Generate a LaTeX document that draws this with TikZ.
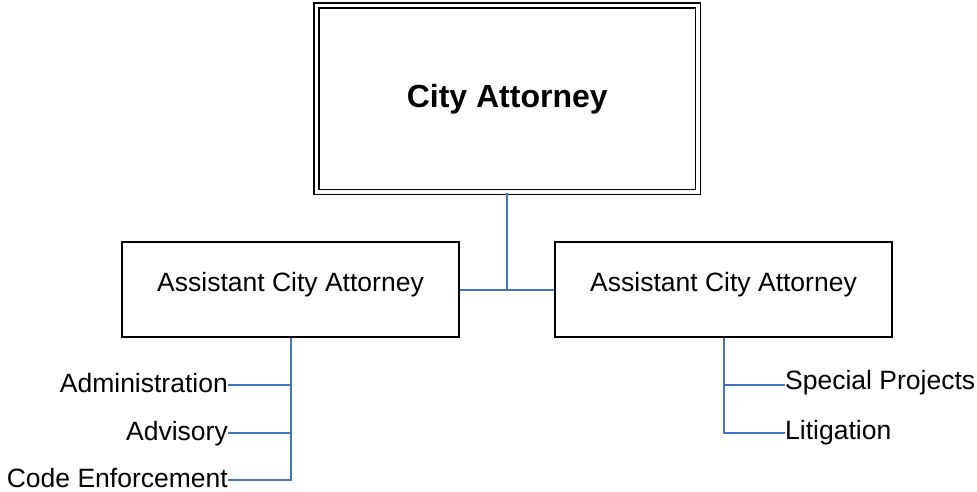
\documentclass[tikz,border=0pt]{standalone}
\usepackage{fontspec}
\setmainfont{Liberation Sans}
\definecolor{linkblue}{HTML}{4472C4}
\begin{document}
\begin{tikzpicture}[x=1pt,y=-1pt,
  topbox/.style={draw=black, rectangle, double, line width=1.8pt, double distance=3.2pt,
    inner sep=0pt, minimum width=381.5pt, minimum height=186.5pt,
    font=\bfseries\fontsize{32}{36}\selectfont},
  subbox/.style={draw=black, rectangle, line width=1.8pt, inner sep=0pt,
    minimum width=337pt, minimum height=95pt,
    font=\fontsize{26.5}{30}\selectfont, text height=19pt, text depth=16pt},
  conn/.style={draw=linkblue, line width=2pt},
  lbl/.style={inner sep=0pt, font=\fontsize{26.5}{30}\selectfont}]
\useasboundingbox (0,0) rectangle (977,492);

\node[topbox] (ca) at (507.25,98.75) {City Attorney};
\node[subbox] (a1) at (290.5,289.5) {Assistant City Attorney};
\node[subbox] (a2) at (723.5,289.5) {Assistant City Attorney};

\coordinate (j) at (ca.south |- a1.east);
\draw[conn] (ca.south) -- (j);
\draw[conn] (a1.east) -- (a2.west);

\node[lbl, anchor=base east] (adm) at (228,392) {Administration};
\node[lbl, anchor=base east] (adv) at (228,440) {Advisory};
\node[lbl, anchor=base east] (ce) at (228,487) {Code Enforcement};
\coordinate (admp) at ([yshift=7pt]adm.base east);
\coordinate (advp) at ([yshift=7pt]adv.base east);
\coordinate (cep) at ([yshift=7pt]ce.base east);
\draw[conn] (a1.south) -- (a1.south |- cep) -- (cep);
\draw[conn] (a1.south |- admp) -- (admp);
\draw[conn] (a1.south |- advp) -- (advp);

\node[lbl, anchor=base west] (sp) at (785,389.5) {Special Projects};
\node[lbl, anchor=base west] (lit) at (785,439) {Litigation};
\coordinate (spp) at ([yshift=4.5pt]sp.base west);
\coordinate (litp) at ([yshift=6pt]lit.base west);
\draw[conn] (a2.south) -- (a2.south |- litp) -- (litp);
\draw[conn] (a2.south |- spp) -- (spp);
\end{tikzpicture}
\end{document}
